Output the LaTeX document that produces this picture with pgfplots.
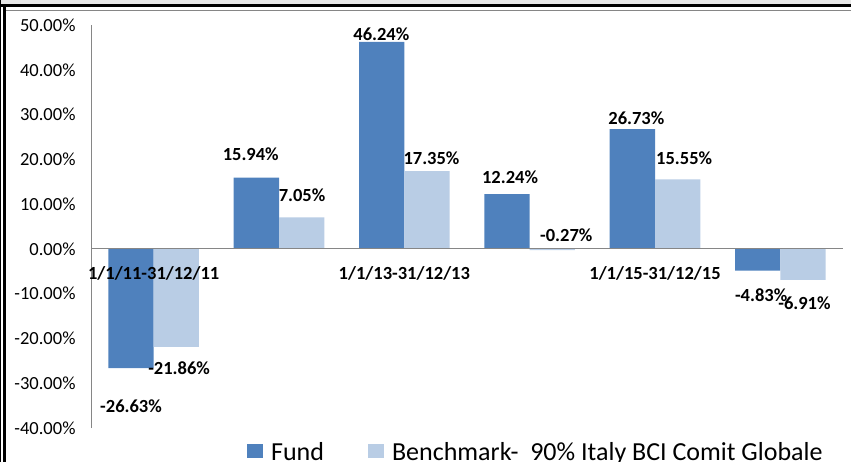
\documentclass[border=0pt]{standalone}
\usepackage{fontspec}
\setmainfont{Carlito}
\usepackage{pgfplots}
\usepackage{pgfplotstable}
\pgfplotsset{compat=1.18}
\definecolor{fundc}{HTML}{4F81BD}
\definecolor{benchc}{HTML}{B9CDE5}
\definecolor{axisc}{HTML}{868686}
\pgfplotstableread{
x fund fdx fdy bench bdx bdy
0 -26.63 0 -27.7 -21.86 2.8 -11.1
1 15.94 -5.6 13.6 7.05 0.4 12.4
2 46.24 -0.3 -2.2 17.35 4.5 3.3
3 12.24 3 7.2 -0.27 14 25.2
4 26.73 4 1.3 15.55 6.5 11.3
5 -4.83 3.5 -14.4 -6.91 1.5 -13
}\data

\begin{document}
\begin{tikzpicture}
\useasboundingbox (0bp,0bp) rectangle (851bp,462bp);
\clip (0bp,0bp) rectangle (851bp,462bp);
\fill[gray!18] (0bp,458bp) rectangle (851bp,462bp);
\fill[black] (0bp,455bp) rectangle (851bp,458.2bp);
\fill[black] (0bp,0bp) rectangle (1.2bp,462bp);
\fill[black] (3.3bp,0bp) rectangle (6bp,455bp);
\draw[axisc, line width=1bp] (6bp,451bp) -- (851bp,451bp);
\begin{axis}[
  at={(91bp,34bp)}, anchor=south west,
  scale only axis, width=752bp, height=403bp,
  axis on top,
  ybar=0pt, bar width=45.3bp,
  xmin=-0.5, xmax=5.5, ymin=-40, ymax=50,
  enlargelimits=false,
  axis x line=middle, axis y line=left,
  axis line style={axisc, line width=1bp, -},
  xtick={0,2,4},
  xticklabels={1/1/11-31/12/11,1/1/13-31/12/13,1/1/15-31/12/15},
  ytick={-40,-30,...,50},
  tick style={draw=none}, major tick length=0pt,
  yticklabel={\pgfmathprintnumber[fixed,fixed zerofill,precision=2,assume math mode=true]{\tick}\%},
  yticklabel style={font=\fontsize{18.5bp}{22bp}\selectfont, xshift=-12bp, text=black},
  xticklabel style={font=\bfseries\fontsize{18.5bp}{22bp}\selectfont, yshift=-14bp, text=black},
  legend columns=2,
  legend style={draw=none, fill=none, at={(axis description cs:0.2074,-0.03)}, anchor=north west,
    font=\fontsize{26bp}{30bp}\selectfont, inner sep=0pt,
    /tikz/every odd column/.append style={column sep=6bp},
    /tikz/every even column/.append style={column sep=42bp}},
  legend image code/.code={\fill[#1] (0bp,-6bp) rectangle (16bp,8bp);},
]
\addplot[fill=fundc, draw=none,
  visualization depends on={\thisrow{fdx}\as\ldx},
  visualization depends on={\thisrow{fdy}\as\ldy},
  nodes near coords={\pgfmathprintnumber[fixed,fixed zerofill,precision=2,assume math mode=true]{\pgfplotspointmeta}\%},
  every node near coord/.append style={font=\bfseries\fontsize{18.5bp}{22bp}\selectfont, text=black, xshift=\ldx bp, yshift=\ldy bp}]
  table[x=x,y=fund]{\data};
\addlegendentry{Fund}
\addplot[fill=benchc, draw=none,
  visualization depends on={\thisrow{bdx}\as\ldx},
  visualization depends on={\thisrow{bdy}\as\ldy},
  nodes near coords={\pgfmathprintnumber[fixed,fixed zerofill,precision=2,assume math mode=true]{\pgfplotspointmeta}\%},
  every node near coord/.append style={font=\bfseries\fontsize{18.5bp}{22bp}\selectfont, text=black, xshift=\ldx bp, yshift=\ldy bp}]
  table[x=x,y=bench]{\data};
\addlegendentry{Benchmark-\ \ 90\% Italy BCI Comit Globale}
\end{axis}
\end{tikzpicture}
\end{document}
